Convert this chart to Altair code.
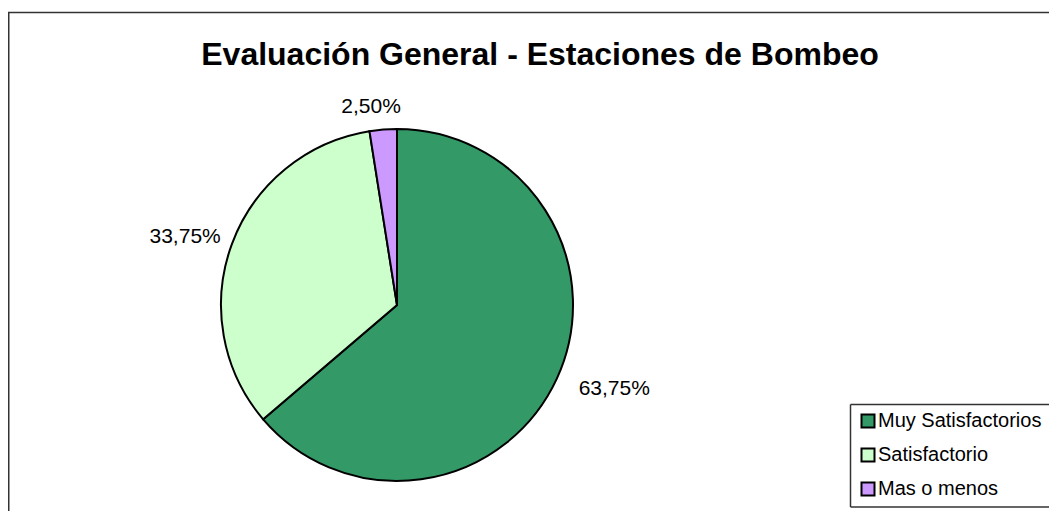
import altair as alt
import pandas as pd

categories = ["Muy Satisfactorios", "Satisfactorio", "Mas o menos"]
values = [63.75, 33.75, 2.50]
order = [0, 1, 2]
colors = ["#339966", "#CCFFCC", "#CC99FF"]
title_text = "Evaluación General - Estaciones de Bombeo"

df = pd.DataFrame({"category": categories, "value": values, "order": order})

W, H = 1041, 503
CX, CY, R = 389, 297, 176
FONT = "Liberation Sans"
LABEL_SIZE = 21

theta_scale = alt.Scale(domain=[0, 100], range=[0, 6.283185307179586])

base = alt.Chart(df).transform_window(
    cum="sum(value)", sort=[alt.SortField("order")], frame=[None, 0]
).transform_calculate(
    start="datum.cum - datum.value",
    mid="datum.cum - datum.value / 2",
    label="replace(format(datum.value, '.2f'), '.', ',') + '%'",
)

arcs = base.mark_arc(outerRadius=R, stroke="black", strokeWidth=2).encode(
    theta=alt.Theta("start:Q", scale=theta_scale, stack=False),
    theta2=alt.Theta2("cum:Q"),
    color=alt.Color(
        "category:N",
        scale=alt.Scale(domain=categories, range=colors),
        legend=alt.Legend(
            orient="none", legendX=843, legendY=396, title=None,
            symbolType="square", symbolSize=169, symbolStrokeColor="black",
            symbolStrokeWidth=2, symbolOpacity=1,
            labelFontSize=20, labelFont=FONT, labelColor="black",
            labelOffset=0, labelLimit=0, rowPadding=12, padding=7,
            cornerRadius=0,
        ),
    ),
    x=alt.value(CX),
    y=alt.value(CY),
)

def label_layer(idx, align, baseline, dx=0, dy=0, radius=195):
    return base.transform_filter(f"datum.order == {idx}").mark_text(
        radius=radius, align=align, baseline=baseline, dx=dx, dy=dy,
        fontSize=LABEL_SIZE, font=FONT, color="black",
    ).encode(
        theta=alt.Theta("mid:Q", scale=theta_scale, stack=False),
        text="label:N",
        x=alt.value(CX),
        y=alt.value(CY),
    )

lab0 = label_layer(0, "left", "middle", dx=0, radius=200)
lab1 = label_layer(1, "right", "middle", dx=2, dy=-2, radius=190)
lab2 = label_layer(2, "center", "bottom", dx=-11, dy=1, radius=190)

single = alt.Data(values=[{}])
title = alt.Chart(single).mark_text(
    text=title_text, font=FONT, fontSize=32, fontWeight="bold",
    align="center", baseline="alphabetic", color="black",
).encode(x=alt.value(532), y=alt.value(57))

def rule(**enc):
    return alt.Chart(single).mark_rule(color="#333333", strokeWidth=1.5).encode(**enc)

border_left = rule(x=alt.value(0.75), y=alt.value(4.5), y2=alt.value(H))
border_top = rule(x=alt.value(0), x2=alt.value(W), y=alt.value(4.5))

LX0, LY0, LY1 = 842.5, 396.5, 499
leg_left = rule(x=alt.value(LX0), y=alt.value(LY0), y2=alt.value(LY1))
leg_top = rule(x=alt.value(LX0), x2=alt.value(W), y=alt.value(LY0))
leg_bottom = rule(x=alt.value(LX0), x2=alt.value(W), y=alt.value(LY1))

chart = alt.layer(
    border_left, border_top, title, arcs, lab0, lab1, lab2,
    leg_left, leg_top, leg_bottom,
).properties(
    width=W, height=H, autosize=alt.AutoSizeParams(type="none"), padding=0
).configure_view(stroke=None)

chart.save("out.html", embed_options={"renderer": "svg", "actions": False})
